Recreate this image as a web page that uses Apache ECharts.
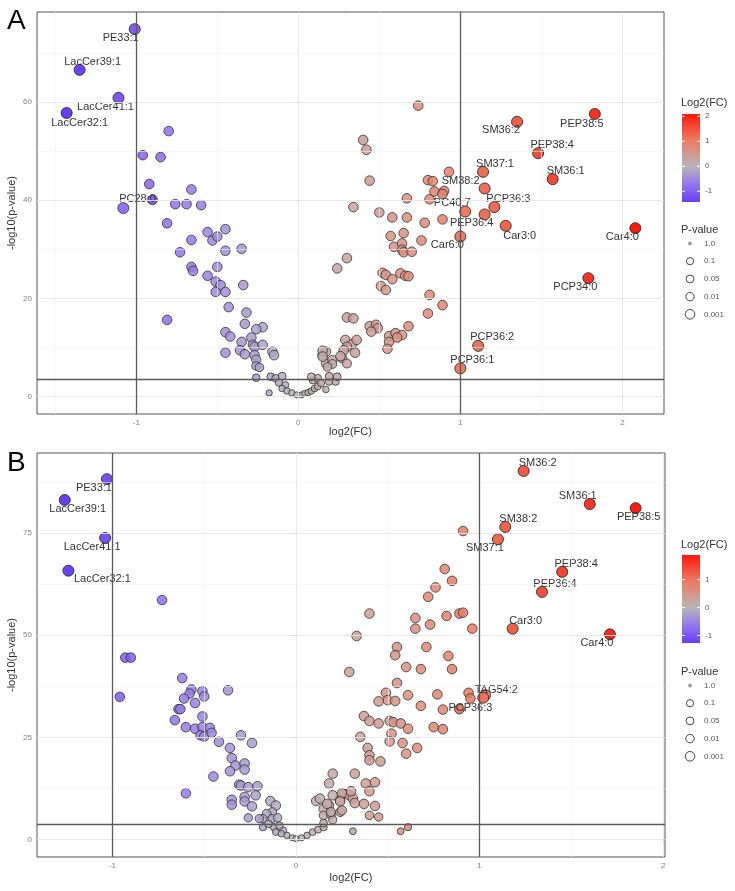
<!DOCTYPE html>
<html lang="en">
<head>
<meta charset="UTF-8">
<title>Volcano plots</title>
<script src="https://cdn.jsdelivr.net/npm/echarts@6/dist/echarts.min.js"></script>
<style>
  html, body { margin: 0; padding: 0; background: #fff; }
  #main { width: 735px; height: 891px; }
</style>
</head>
<body>
<div id="main"></div>
<script>
// ---- panel A data ----
var namesA = ['PE33:1', 'LacCer39:1', 'LacCer41:1', 'LacCer32:1', 'PC28:0',
  'PEP38:5', 'SM36:2', 'PEP38:4', 'SM37:1', 'SM36:1', 'SM38:2', 'PC40:7',
  'PCP36:3', 'PEP36:4', 'Car6:0', 'Car3:0', 'Car4:0', 'PCP34:0', 'PCP36:2', 'PCP36:1'];
var labeledA = [[-1.01, 74.9], [-1.35, 66.6], [-1.11, 60.9], [-1.43, 57.8], [-0.90, 40.1],
  [1.83, 57.6], [1.35, 56.0], [1.48, 49.6], [1.14, 45.8], [1.57, 44.3], [1.15, 42.4], [1.03, 37.7],
  [1.21, 38.6], [1.15, 37.1], [1.00, 32.6], [1.28, 34.8], [2.08, 34.3], [1.79, 24.1], [1.11, 10.3], [1.00, 5.7]];
var pointsA = [
  [-1.08, 38.4], [-0.80, 54.1], [-0.96, 49.2], [-0.85, 48.8], [-0.92, 43.3], [-0.66, 42.2], [-0.76, 39.2],
  [-0.69, 39.2], [-0.60, 39.0], [-0.81, 35.3], [-0.56, 33.5], [-0.53, 31.8], [-0.50, 32.6], [-0.45, 34.1],
  [-0.66, 31.9], [-0.45, 29.7], [-0.35, 30.1], [-0.73, 29.4], [-0.66, 26.4], [-0.65, 25.6], [-0.50, 26.4],
  [-0.56, 24.6], [-0.51, 23.4], [-0.48, 22.7], [-0.51, 21.3], [-0.45, 21.3], [-0.34, 22.7], [-0.43, 18.2],
  [-0.32, 17.1], [-0.81, 15.6], [-0.33, 14.8], [-0.22, 14.1], [-0.26, 13.7], [-0.45, 13.1], [-0.42, 12.2],
  [-0.35, 11.1], [-0.29, 12.0], [-0.28, 10.5], [-0.27, 10.1], [-0.22, 10.5], [-0.45, 8.9], [-0.36, 9.4],
  [-0.33, 8.6], [-0.27, 8.4], [-0.26, 7.5], [-0.26, 6.2], [-0.24, 5.9], [-0.26, 3.8], [-0.16, 9.1],
  [-0.15, 8.4], [-0.17, 4.0], [-0.14, 3.7], [-0.10, 4.1], [-0.12, 2.8], [-0.08, 2.3], [-0.10, 1.6],
  [-0.07, 1.1], [-0.04, 0.7], [-0.01, 0.3], [-0.18, 0.7],
  [0.02, 0.3], [0.04, 0.6], [0.06, 0.8], [0.08, 1.1], [0.10, 1.6], [0.12, 2.0], [0.09, 3.3], [0.12, 3.7],
  [0.14, 2.7], [0.17, 1.4], [0.19, 3.0], [0.23, 3.0], [0.15, 8.4], [0.17, 9.1], [0.17, 6.7], [0.21, 7.4],
  [0.24, 4.0], [0.19, 4.1], [0.08, 4.0], [0.15, 9.3], [0.15, 8.1], [0.21, 6.6], [0.18, 6.0],
  [0.29, 11.5], [0.33, 10.6], [0.30, 10.1], [0.36, 11.5], [0.35, 8.9], [0.28, 9.4], [0.27, 7.8],
  [0.30, 6.7], [0.26, 8.2], [0.30, 16.1], [0.34, 15.9], [0.44, 14.3], [0.48, 14.6], [0.49, 13.9],
  [0.45, 13.2], [0.56, 12.3], [0.60, 12.9], [0.64, 12.5], [0.61, 12.0], [0.56, 11.1], [0.55, 9.7],
  [0.68, 14.3], [0.80, 16.9], [0.89, 18.6], [0.81, 20.7], [0.51, 22.5], [0.54, 21.7], [0.52, 25.2],
  [0.54, 24.8], [0.58, 23.9], [0.63, 25.1], [0.66, 24.6], [0.68, 24.5], [0.30, 28.2], [0.24, 26.1],
  [0.57, 32.7], [0.65, 33.3], [0.59, 30.5], [0.64, 31.2], [0.64, 29.9], [0.65, 29.4], [0.70, 29.5],
  [0.76, 31.8], [0.34, 38.6], [0.50, 37.5], [0.58, 36.5], [0.67, 36.5], [0.78, 35.4], [0.89, 36.1],
  [0.44, 44.0], [0.40, 52.3], [0.42, 50.3], [0.74, 59.3], [0.67, 40.4], [0.81, 40.2], [0.84, 41.8],
  [0.90, 41.9], [0.89, 41.3], [0.80, 44.1], [0.83, 43.9], [0.93, 45.8]
];

// ---- panel B data ----
var namesB = ['PE33:1', 'LacCer39:1', 'LacCer41:1', 'LacCer32:1', 'SM36:2', 'SM36:1', 'PEP38:5',
  'SM38:2', 'SM37:1', 'PEP38:4', 'PEP36:4', 'Car3:0', 'Car4:0', 'TAG54:2', 'PCP36:3'];
var labeledB = [[-1.03, 88.2], [-1.26, 83.1], [-1.04, 73.8], [-1.24, 65.8], [1.24, 90.2], [1.60, 82.1],
  [1.85, 81.1], [1.14, 76.5], [1.10, 73.5], [1.45, 65.5], [1.34, 60.6], [1.18, 51.6], [1.71, 50.2],
  [1.02, 34.7], [0.89, 31.9]];
var pointsB = [
  [-0.73, 58.6], [-0.93, 44.5], [-0.90, 44.5], [-0.96, 34.9], [-0.62, 39.5], [-0.57, 36.7], [-0.58, 35.7],
  [-0.61, 34.5], [-0.51, 36.3], [-0.50, 35.0], [-0.55, 33.4], [-0.37, 36.5], [-0.64, 31.9], [-0.63, 31.9],
  [-0.66, 29.2], [-0.51, 30.1], [-0.60, 27.5], [-0.55, 27.1], [-0.51, 27.5], [-0.47, 27.3], [-0.52, 25.5],
  [-0.50, 25.2], [-0.46, 26.1], [-0.42, 23.9], [-0.30, 25.5], [-0.24, 23.6], [-0.36, 22.4], [-0.35, 19.9],
  [-0.33, 18.1], [-0.28, 18.6], [-0.28, 17.1], [-0.36, 16.7], [-0.45, 15.4], [-0.31, 13.4], [-0.30, 13.2],
  [-0.26, 12.8], [-0.21, 13.0], [-0.28, 10.4], [-0.22, 10.8], [-0.35, 9.7], [-0.35, 8.5], [-0.28, 9.3],
  [-0.24, 8.1], [-0.60, 11.3], [-0.26, 5.3], [-0.14, 9.4], [-0.11, 8.3], [-0.13, 6.7], [-0.16, 6.3],
  [-0.18, 5.1], [-0.13, 5.1], [-0.10, 5.3], [-0.12, 3.0], [-0.18, 3.0], [-0.11, 1.8], [-0.07, 2.2],
  [-0.05, 1.0], [-0.02, 0.4], [-0.20, 5.1], [-0.15, 3.8], [-0.09, 3.4], [-0.08, 1.4],
  [0.00, 0.2], [0.03, 0.4], [0.06, 1.0], [0.09, 1.8], [0.12, 2.4], [0.15, 3.0], [0.15, 4.0], [0.11, 9.4],
  [0.13, 10.0], [0.18, 8.3], [0.15, 7.5], [0.15, 5.9], [0.19, 6.1], [0.20, 4.8], [0.20, 10.8], [0.26, 11.2],
  [0.24, 9.6], [0.24, 6.7], [0.29, 10.8], [0.31, 10.0], [0.32, 8.9], [0.31, 2.0], [0.18, 13.7], [0.20, 16.1],
  [0.32, 16.1], [0.29, 41.0], [0.91, 75.5], [0.81, 66.2], [0.85, 63.3], [0.76, 61.7], [0.72, 59.4],
  [0.40, 55.3], [0.65, 54.2], [0.65, 51.6], [0.73, 52.6], [0.82, 54.7], [0.89, 55.3], [0.91, 55.5],
  [0.96, 51.6], [0.33, 49.8], [0.55, 47.1], [0.54, 45.1], [0.71, 47.1], [0.83, 44.9], [0.60, 42.2],
  [0.68, 41.7], [0.85, 41.7], [0.55, 38.3], [0.49, 35.9], [0.50, 34.1], [0.54, 33.9], [0.45, 33.8],
  [0.61, 35.3], [0.77, 35.5], [0.94, 35.9], [0.95, 34.5], [1.03, 35.3], [0.80, 31.8], [0.68, 32.7],
  [0.37, 30.2], [0.40, 29.0], [0.45, 28.4], [0.51, 29.0], [0.53, 28.7], [0.57, 28.4], [0.61, 27.1],
  [0.75, 27.5], [0.80, 27.0], [0.52, 25.9], [0.51, 24.0], [0.35, 25.1], [0.58, 23.6], [0.60, 21.0],
  [0.66, 22.4], [0.39, 22.4], [0.40, 20.6], [0.40, 19.4], [0.46, 19.1], [0.38, 13.7], [0.43, 14.0],
  [0.40, 11.8], [0.25, 11.3], [0.30, 11.8], [0.17, 8.7], [0.24, 9.3], [0.37, 8.7], [0.43, 8.2],
  [0.19, 6.7], [0.25, 7.1], [0.40, 5.9], [0.45, 5.5], [0.57, 2.0], [0.61, 3.0]
];

// colour scale ranges and legend values
var fcRangeA = [-1.43, 2.09];
var fcRangeB = [-1.27, 1.88];
var fcTicksA = [2, 1, 0, -1];
var fcTicksB = [1, 0, -1];
var pLegend = ['1.0', '0.1', '0.05', '0.01', '0.001'];
var thresholdA = 3.5, thresholdB = 3.7;

// label offsets (text centre relative to point), by name
var offA = {
  'PE33:1': [-14, 9], 'LacCer39:1': [13, -8], 'LacCer41:1': [-13, 9], 'LacCer32:1': [13, 10],
  'PC28:0': [-15, -1], 'PEP38:5': [-13, 10], 'SM36:2': [-16, 8], 'PEP38:4': [14, -8],
  'SM37:1': [12, -8], 'SM36:1': [13, -8], 'SM38:2': [-24, -8], 'PC40:7': [-13, -9],
  'PCP36:3': [14, -8], 'PEP36:4': [-13, 8], 'Car6:0': [-13, 8], 'Car3:0': [14, 10],
  'Car4:0': [-13, 9], 'PCP34:0': [-13, 9], 'PCP36:2': [14, -9], 'PCP36:1': [12, -8]
};
var offB = {
  'PE33:1': [-13, 9], 'LacCer39:1': [13, 9], 'LacCer41:1': [-13, 9], 'LacCer32:1': [34, 8],
  'SM36:2': [14, -8], 'SM36:1': [-12, -8], 'PEP38:5': [3, 9], 'SM38:2': [13, -8],
  'SM37:1': [-13, 9], 'PEP38:4': [14, -8], 'PEP36:4': [13, -8], 'Car3:0': [13, -8],
  'Car4:0': [-13, 9], 'TAG54:2': [13, -8], 'PCP36:3': [11, -1]
};

var FONT = '"Liberation Sans", Arial, sans-serif';
var LOW = [104, 62, 246], MID = [184, 181, 184], HIGH = [255, 24, 12];
var LOWMID = [148, 118, 236], MIDHIGH = [236, 122, 96];

function mix(a, b, t) {
  var c = [0, 1, 2].map(function (i) { return Math.round(a[i] + (b[i] - a[i]) * t); });
  return 'rgb(' + c.join(',') + ')';
}
function fcColor(v, lo, hi) {
  var t;
  if (v < 0) {
    t = Math.min(v / lo, 1);
    return t < 0.5 ? mix(MID, LOWMID, t * 2) : mix(LOWMID, LOW, (t - 0.5) * 2);
  }
  t = Math.min(v / hi, 1);
  return t < 0.5 ? mix(MID, MIDHIGH, t * 2) : mix(MIDHIGH, HIGH, (t - 0.5) * 2);
}
function ramp(range) {
  var out = [];
  for (var i = 0; i <= 40; i++) out.push(fcColor(range[0] + (range[1] - range[0]) * i / 40, range[0], range[1]));
  return out;
}
function sizeOf(val) {
  if (Math.abs(val[0]) >= 0.98) return 11;
  return 6 + Math.min(val[1], 8) * 0.45;
}
function buildData(points, labeled, names, offs) {
  var data = points.map(function (p) { return { value: p }; });
  labeled.forEach(function (p, i) {
    data.push({
      value: p, name: names[i],
      itemStyle: { opacity: 1 },
      label: {
        show: true, position: 'inside', offset: offs[names[i]], formatter: names[i],
        color: '#333', fontSize: 11, fontFamily: FONT, textBorderWidth: 0
      }
    });
  });
  return data;
}
function gridLines(xMajor, xMinor, yMajor, yMinor, yThr) {
  var d = [];
  xMinor.forEach(function (v) { d.push({ xAxis: v, lineStyle: { color: '#f3f3f3', width: 0.6, type: 'solid' } }); });
  yMinor.forEach(function (v) { d.push({ yAxis: v, lineStyle: { color: '#f3f3f3', width: 0.6, type: 'solid' } }); });
  xMajor.forEach(function (v) { d.push({ xAxis: v, lineStyle: { color: '#e5e5e5', width: 0.9, type: 'solid' } }); });
  yMajor.forEach(function (v) { d.push({ yAxis: v, lineStyle: { color: '#e5e5e5', width: 0.9, type: 'solid' } }); });
  [-1, 1].forEach(function (v) { d.push({ xAxis: v, lineStyle: { color: '#5a5a5a', width: 1.3, type: 'solid' } }); });
  d.push({ yAxis: yThr, lineStyle: { color: '#5a5a5a', width: 1.3, type: 'solid' } });
  return d;
}
function xAxisOf(gi, min, max, gap) {
  return {
    gridIndex: gi, type: 'value', min: min, max: max,
    splitLine: { show: false }, axisLine: { show: false },
    axisTick: { show: true, customValues: [-1, 0, 1, 2], length: 3, lineStyle: { color: '#555' } },
    axisLabel: { customValues: [-1, 0, 1, 2], fontSize: 8, color: '#808080', margin: 5, fontFamily: FONT },
    name: 'log2(FC)', nameLocation: 'middle', nameGap: gap, nameMoveOverlap: false,
    nameTextStyle: { fontSize: 11, color: '#333', fontFamily: FONT }
  };
}
function yAxisOf(gi, min, max, ticks) {
  return {
    gridIndex: gi, type: 'value', min: min, max: max,
    splitLine: { show: false }, axisLine: { show: false },
    axisTick: { show: true, customValues: ticks, length: 3, lineStyle: { color: '#555' } },
    axisLabel: { customValues: ticks, fontSize: 8, color: '#808080', margin: 5, fontFamily: FONT },
    name: '-log10(p-value)', nameLocation: 'middle', nameGap: 20, nameMoveOverlap: false,
    nameTextStyle: { fontSize: 11, color: '#333', fontFamily: FONT }
  };
}
function legend(top, fcTop, range, ticks, pTop) {
  var els = [];
  var h = 88;
  var stops = [];
  for (var i = 0; i <= 20; i++) {
    var v = range[1] - (range[1] - range[0]) * i / 20;
    stops.push({ offset: i / 20, color: fcColor(v, range[0], range[1]) });
  }
  els.push({ type: 'text', left: 681, top: top, style: { text: 'Log2(FC)', font: '11px ' + FONT, fill: '#333' } });
  els.push({ type: 'rect', shape: { x: 682, y: fcTop, width: 18, height: h },
    style: { fill: { type: 'linear', x: 0, y: 0, x2: 0, y2: 1, colorStops: stops } } });
  ticks.forEach(function (t) {
    var y = fcTop + (range[1] - t) / (range[1] - range[0]) * h;
    els.push({ type: 'line', shape: { x1: 682, y1: y, x2: 685, y2: y }, style: { stroke: '#fff', lineWidth: 1 } });
    els.push({ type: 'line', shape: { x1: 697, y1: y, x2: 700, y2: y }, style: { stroke: '#fff', lineWidth: 1 } });
    els.push({ type: 'text', x: 705, y: y, style: { text: String(t), font: '8px ' + FONT, fill: '#555', verticalAlign: 'middle' } });
  });
  els.push({ type: 'text', left: 681, top: pTop, style: { text: 'P-value', font: '11px ' + FONT, fill: '#333' } });
  var radii = [1.5, 3.6, 3.9, 4.2, 4.8];
  pLegend.forEach(function (lab, i) {
    var y = pTop + 19.5 + i * 17.7;
    els.push({ type: 'circle', shape: { cx: 690, cy: y, r: radii[i] },
      style: i === 0 ? { fill: '#999', stroke: '#999' } : { fill: 'none', stroke: '#444', lineWidth: 1 } });
    els.push({ type: 'text', x: 704, y: y, style: { text: lab, font: '8px ' + FONT, fill: '#555', verticalAlign: 'middle' } });
  });
  return els;
}

var chart = echarts.init(document.getElementById('main'), null, { renderer: 'canvas' });
var option = {
  animation: false,
  backgroundColor: '#fff',
  grid: [
    { left: 37, top: 12, width: 627, height: 402, show: true, borderColor: '#555', borderWidth: 1,
      backgroundColor: '#fff', containLabel: false, outerBoundsMode: 'none' },
    { left: 37, top: 453, width: 628, height: 404, show: true, borderColor: '#555', borderWidth: 1,
      backgroundColor: '#fff', containLabel: false, outerBoundsMode: 'none' }
  ],
  xAxis: [xAxisOf(0, -1.613, 2.257, 12), xAxisOf(1, -1.411, 2.01, 15)],
  yAxis: [yAxisOf(0, -3.6, 78.4, [0, 20, 40, 60]), yAxisOf(1, -4.3, 94.6, [0, 25, 50, 75])],
  visualMap: [
    { show: false, type: 'continuous', seriesIndex: 2, dimension: 0, min: fcRangeA[0], max: fcRangeA[1], inRange: { color: ramp(fcRangeA) } },
    { show: false, type: 'continuous', seriesIndex: 3, dimension: 0, min: fcRangeB[0], max: fcRangeB[1], inRange: { color: ramp(fcRangeB) } }
  ],
  series: [
    { type: 'scatter', xAxisIndex: 0, yAxisIndex: 0, data: [], z: 1, silent: true,
      markLine: { silent: true, symbol: 'none', label: { show: false }, animation: false,
        data: gridLines([0, 2], [-1.5, -0.5, 0.5, 1.5], [0, 20, 40, 60], [10, 30, 50, 70], thresholdA) } },
    { type: 'scatter', xAxisIndex: 1, yAxisIndex: 1, data: [], z: 1, silent: true,
      markLine: { silent: true, symbol: 'none', label: { show: false }, animation: false,
        data: gridLines([0, 2], [-0.5, 0.5, 1.5], [0, 25, 50, 75], [12.5, 37.5, 62.5, 87.5], thresholdB) } },
    { type: 'scatter', xAxisIndex: 0, yAxisIndex: 0, z: 3, symbolSize: sizeOf,
      itemStyle: { opacity: 0.85, borderColor: '#2a2a2a', borderWidth: 0.9 },
      data: buildData(pointsA, labeledA, namesA, offA) },
    { type: 'scatter', xAxisIndex: 1, yAxisIndex: 1, z: 3, symbolSize: sizeOf,
      itemStyle: { opacity: 0.85, borderColor: '#2a2a2a', borderWidth: 0.9 },
      data: buildData(pointsB, labeledB, namesB, offB) }
  ],
  graphic: [
    { type: 'text', left: 7, top: 7, style: { text: 'A', font: '28px ' + FONT, fill: '#000' } },
    { type: 'text', left: 7, top: 449, style: { text: 'B', font: '28px ' + FONT, fill: '#000' } }
  ].concat(legend(97, 114, fcRangeA, fcTicksA, 224)).concat(legend(539, 555, fcRangeB, fcTicksB, 666))
};
chart.setOption(option);
</script>
</body>
</html>
